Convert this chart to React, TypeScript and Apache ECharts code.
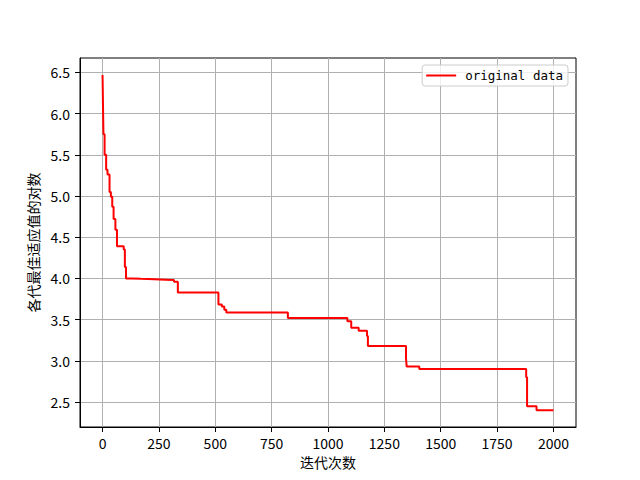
import React, { useEffect, useRef } from "react";
import * as echarts from "echarts";

const iterations = [0, 2, 4, 9, 16, 22, 31, 37, 43, 49, 57, 64, 94, 99, 104, 130, 170, 230, 280, 317, 334, 514, 529, 540, 549, 822, 1086, 1103, 1136, 1173, 1177, 1346, 1349, 1405, 1879, 1883, 1925, 2000];
const logFitness = [6.47, 6.10, 5.75, 5.50, 5.32, 5.26, 5.05, 4.99, 4.87, 4.72, 4.59, 4.39, 4.35, 4.14, 4.00, 3.995, 3.99, 3.985, 3.98, 3.96, 3.83, 3.685, 3.66, 3.62, 3.588, 3.52, 3.48, 3.40, 3.364, 3.30, 3.18, 3.03, 2.93, 2.90, 2.80, 2.45, 2.40, 2.40];
const xTicks = [0, 250, 500, 750, 1000, 1250, 1500, 1750, 2000];
const yTicks = [2.5, 3.0, 3.5, 4.0, 4.5, 5.0, 5.5, 6.0, 6.5];
const seriesName = "original data";
const xName = "迭代次数";
const yName = "各代最佳适应值的对数";

const FONT = "'Noto Sans CJK SC', 'DejaVu Sans', sans-serif";

export default function App() {
  const ref = useRef<HTMLDivElement>(null);
  useEffect(() => {
    if (!ref.current) return;
    const chart = echarts.init(ref.current, undefined, { renderer: "svg" });
    const data = iterations.map((x, i) => [x, logFitness[i]]);
    chart.setOption({
      animation: false,
      backgroundColor: "#fff",
      grid: {
        left: 80,
        right: 64,
        top: 58,
        bottom: 53,
        show: true,
        borderColor: "#000",
        borderWidth: 1,
        backgroundColor: "transparent",
      },
      legend: {
        data: [{ name: seriesName, icon: "rect" }],
        right: 72,
        top: 65,
        itemWidth: 30,
        itemHeight: 2,
        padding: [4, 5, 4, 4],
        borderColor: "#cccccc",
        borderWidth: 1,
        borderRadius: 3,
        backgroundColor: "rgba(255,255,255,0.8)",
        textStyle: {
          fontFamily: "'DejaVu Sans Mono', monospace",
          fontSize: 12.5,
          color: "#000",
          padding: [0, 0, 0, 4],
        },
      },
      xAxis: {
        type: "value",
        min: -100,
        max: 2100,
        name: xName,
        nameLocation: "middle",
        nameGap: 26,
        nameTextStyle: { fontFamily: FONT, fontSize: 14, color: "#000" },
        axisLine: { show: true, onZero: false, lineStyle: { color: "#000", width: 1 } },
        axisTick: {
          show: true,
          length: 5,
          customValues: xTicks,
          lineStyle: { color: "#000", width: 1 },
        },
        axisLabel: {
          customValues: xTicks,
          margin: 9,
          fontFamily: FONT,
          fontSize: 14,
          color: "#000",
          formatter: (v: number) => String(v),
        },
        splitLine: { show: true, lineStyle: { color: "#b0b0b0", width: 1 } },
      },
      yAxis: {
        type: "value",
        min: 2.197,
        max: 6.675,
        name: yName,
        nameLocation: "middle",
        nameGap: 38,
        nameTextStyle: { fontFamily: FONT, fontSize: 14, color: "#000" },
        axisLine: { show: true, onZero: false, lineStyle: { color: "#000", width: 1 } },
        axisTick: {
          show: true,
          length: 5,
          customValues: yTicks,
          lineStyle: { color: "#000", width: 1 },
        },
        axisLabel: {
          customValues: yTicks,
          margin: 10,
          fontFamily: FONT,
          fontSize: 14,
          color: "#000",
          formatter: (v: number) => v.toFixed(1),
        },
        splitLine: { show: true, lineStyle: { color: "#b0b0b0", width: 1 } },
      },
      series: [
        {
          name: seriesName,
          type: "line",
          step: "end",
          data,
          symbol: "none",
          showSymbol: false,
          color: "#ff0000",
          lineStyle: { color: "#ff0000", width: 2 },
        },
      ],
    });
    return () => chart.dispose();
  }, []);
  return (
    <div
      ref={ref}
      style={{ position: "fixed", left: 0, top: 0, width: 640, height: 480 }}
    />
  );
}
